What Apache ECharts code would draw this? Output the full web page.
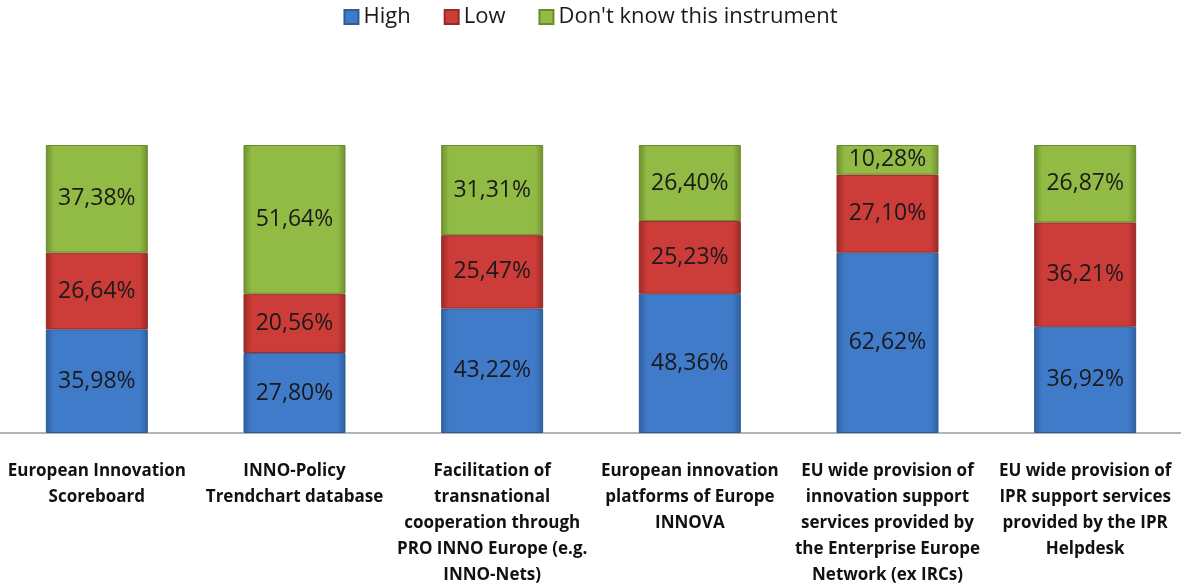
<!DOCTYPE html>
<html><head><meta charset="utf-8">
<script src="https://cdn.jsdelivr.net/npm/echarts@6/dist/echarts.min.js"></script>
<style>html,body{margin:0;padding:0;background:#fff;overflow:hidden}#c{width:1181px;height:584px}</style>
</head><body><div id="c"></div>
<script>
const categories = [
  "European Innovation\nScoreboard",
  "INNO-Policy\nTrendchart database",
  "Facilitation of\ntransnational\ncooperation through\nPRO INNO Europe (e.g.\nINNO-Nets)",
  "European innovation\nplatforms of Europe\nINNOVA",
  "EU wide provision of\ninnovation support\nservices provided by\nthe Enterprise Europe\nNetwork (ex IRCs)",
  "EU wide provision of\nIPR support services\nprovided by the IPR\nHelpdesk"
];
const high = [35.98, 27.80, 43.22, 48.36, 62.62, 36.92];
const low = [26.64, 20.56, 25.47, 25.23, 27.10, 36.21];
const dontKnow = [37.38, 51.64, 31.31, 26.40, 10.28, 26.87];
const seriesNames = ["High", "Low", "Don't know this instrument"];

function grad(dark, mid) {
  return new echarts.graphic.LinearGradient(0, 0, 1, 0, [
    {offset: 0, color: dark}, {offset: 0.08, color: mid}, {offset: 0.92, color: mid}, {offset: 1, color: dark}
  ]);
}
const colors = [
  grad('#2f5f9f', '#3f7bc9'),
  grad('#9a2a27', '#cc3c38'),
  grad('#6f8f2e', '#92bb45')
];
const borders = ['#2d5c98', '#962a27', '#6a8a2c'];
const legendColors = ['#3f7bc9', '#cc3c38', '#92bb45'];

const chart = echarts.init(document.getElementById('c'));
const fmt = p => p.value.toFixed(2).replace('.', ',') + '%';
const mk = (name, data, i) => ({
  name, type: 'bar', stack: 's', data, barWidth: 102,
  itemStyle: {color: colors[i], borderColor: borders[i], borderWidth: 1},
  label: {show: true, position: 'inside', formatter: fmt, fontSize: 23, color: '#1a1a1a', fontFamily: 'Open Sans'},
  emphasis: {disabled: true}
});
chart.setOption({
  animation: false,
  color: legendColors,
  legend: {
    top: 1, left: 'center', itemWidth: 14, itemHeight: 14, itemGap: 33,
    textStyle: {fontSize: 22, color: '#1a1a1a', fontFamily: 'Open Sans'},
    data: seriesNames.map((n, i) => ({name: n, icon: 'rect', itemStyle: {color: legendColors[i]}}))
  },
  grid: {left: -2, right: -3, top: 145, bottom: 151, containLabel: false, outerBoundsMode: 'none'},
  xAxis: {
    type: 'category', data: categories,
    axisLine: {lineStyle: {color: '#9a9a9a', width: 1.5}},
    axisTick: {show: false},
    axisLabel: {interval: 0, margin: 25, fontSize: 17, fontWeight: 'bold', lineHeight: 26, color: '#111', fontFamily: 'Open Sans'}
  },
  yAxis: {type: 'value', min: 0, max: 100, show: false, splitLine: {show: false}},
  series: [mk(seriesNames[0], high, 0), mk(seriesNames[1], low, 1), mk(seriesNames[2], dontKnow, 2)]
});
</script></body></html>
